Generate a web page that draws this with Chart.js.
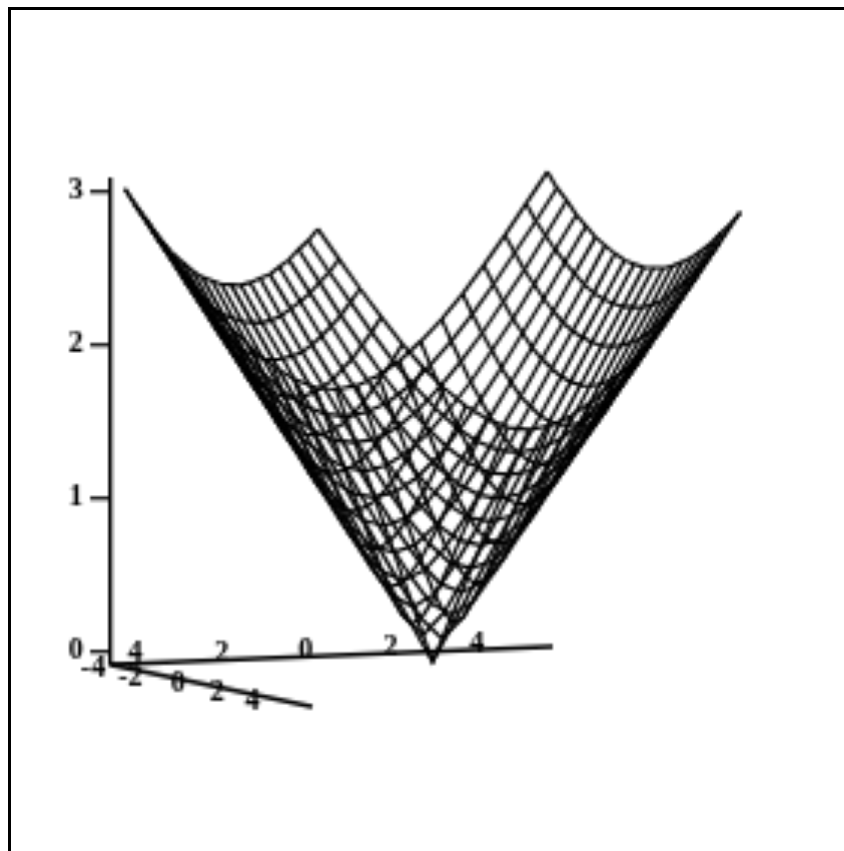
<!DOCTYPE html>
<html>
<head>
<meta charset="utf-8">
<title>Surface</title>
<style>
  html, body { margin: 0; padding: 0; background: #fff; }
  #wrap { position: absolute; left: 0; top: 0; width: 844px; height: 851px; }
  #frame { position: absolute; left: 8px; top: 7px; right: 0; bottom: 0;
           border-left: 3px solid #000; border-top: 3px solid #000; }
</style>
<script src="https://cdn.jsdelivr.net/npm/chart.js@4"></script>
</head>
<body>
<div id="wrap">
  <canvas id="chart" width="844" height="851"></canvas>
  <div id="frame"></div>
</div>
<script>
// mesh lines along both floor directions
const gridU = [-4, -3.6, -3.2, -2.8, -2.4, -2, -1.6, -1.2, -0.8, -0.4, 0,
               0.4, 0.8, 1.2, 1.6, 2, 2.4, 2.8, 3.2, 3.6, 4];
const gridV = [-4, -3.6, -3.2, -2.8, -2.4, -2, -1.6, -1.2, -0.8, -0.4, 0,
               0.4, 0.8, 1.2, 1.6, 2, 2.4, 2.8, 3.2, 3.6, 4];

// surface height, one quadrant: row = distance from centre along u, column = along v
const heights = [
  [0.00, 0.16, 0.33, 0.49, 0.66, 0.82, 0.99, 1.15, 1.32, 1.48, 1.64],
  [0.25, 0.30, 0.41, 0.55, 0.70, 0.86, 1.02, 1.18, 1.34, 1.50, 1.66],
  [0.50, 0.53, 0.60, 0.70, 0.83, 0.96, 1.11, 1.26, 1.41, 1.56, 1.72],
  [0.75, 0.77, 0.82, 0.90, 1.00, 1.12, 1.24, 1.38, 1.52, 1.66, 1.81],
  [1.00, 1.02, 1.06, 1.12, 1.20, 1.30, 1.41, 1.53, 1.66, 1.79, 1.93],
  [1.26, 1.27, 1.30, 1.35, 1.42, 1.50, 1.60, 1.70, 1.82, 1.94, 2.07],
  [1.51, 1.52, 1.54, 1.59, 1.64, 1.72, 1.80, 1.90, 2.00, 2.11, 2.23],
  [1.76, 1.77, 1.79, 1.83, 1.88, 1.94, 2.02, 2.10, 2.20, 2.30, 2.41],
  [2.01, 2.02, 2.04, 2.07, 2.11, 2.17, 2.24, 2.32, 2.40, 2.50, 2.60],
  [2.26, 2.27, 2.28, 2.31, 2.35, 2.41, 2.47, 2.54, 2.62, 2.70, 2.80],
  [2.51, 2.52, 2.53, 2.56, 2.60, 2.64, 2.70, 2.76, 2.84, 2.91, 3.00]
];

const heightTicks = [0, 1, 2, 3];

// floor axis labels, as they show in the picture
const floorLabelsU = ['4', '2', '0', '2', '4'];
const floorLabelsV = ['-4', '-2', '0', '2', '4'];

// view of the box (plot units per unit of u / v)
const VIEW = { ux: 52.75, uy: 0.0137, vx: 24.1, vy: -0.0326, drop: -0.065 };

function project(u, v, z) {
    return {
        x: VIEW.ux * u + VIEW.vx * v,
        y: z + VIEW.uy * u + VIEW.vy * v + VIEW.drop
    };
}

function heightAt(i, j) {
    return heights[Math.abs(i - 10)][Math.abs(j - 10)];
}

function lineDataset(points, width) {
    return {
        data: points,
        showLine: true,
        borderColor: '#000',
        borderWidth: width,
        pointRadius: 0,
        tension: 0,
        clip: false
    };
}

const meshDatasets = [];
gridU.forEach(function(u, i) {
    meshDatasets.push(lineDataset(gridV.map((v, j) => project(u, v, heightAt(i, j))), 3.5));
});
gridV.forEach(function(v, j) {
    meshDatasets.push(lineDataset(gridU.map((u, i) => project(u, v, heightAt(i, j))), 3.5));
});

// the two floor axes
const axisOrigin = project(-5.35, -1.65, 0);
const axisU = lineDataset([axisOrigin, project(3.03, -1.65, 0)], 4.5);
const axisV = lineDataset([axisOrigin, project(-5.35, 6.73, 0)], 4.5);

// where the floor labels sit, in plot units
const floorLabelPosU = [[-297, -0.02], [-211, -0.01], [-127, 0.005], [-42, 0.03], [44, 0.05]];
const floorLabelPosV = [[-339, -0.12], [-302, -0.18], [-254, -0.22], [-215, -0.26], [-180, -0.33]];

const floorLabels = {
    id: 'floorLabels',
    afterDatasetsDraw(chart) {
        const ctx = chart.ctx;
        const sx = chart.scales.x, sy = chart.scales.y;
        ctx.save();
        ctx.font = 'bold 30px "Liberation Serif"';
        ctx.fillStyle = '#000';
        ctx.textAlign = 'center';
        ctx.textBaseline = 'middle';
        floorLabelsU.forEach((t, i) => {
            ctx.fillText(t, sx.getPixelForValue(floorLabelPosU[i][0]), sy.getPixelForValue(floorLabelPosU[i][1]));
        });
        floorLabelsV.forEach((t, i) => {
            ctx.fillText(t, sx.getPixelForValue(floorLabelPosV[i][0]), sy.getPixelForValue(floorLabelPosV[i][1]));
        });
        ctx.restore();
    }
};

new Chart(document.getElementById('chart'), {
    type: 'scatter',
    data: { datasets: meshDatasets.concat([axisU, axisV]) },
    plugins: [floorLabels],
    options: {
        responsive: false,
        animation: false,
        devicePixelRatio: 1 / 3,
        layout: { padding: { top: 178, bottom: 188, right: 64, left: 0 } },
        plugins: { legend: { display: false }, tooltip: { enabled: false } },
        scales: {
            x: { type: 'linear', display: false, min: -322, max: 348 },
            y: {
                type: 'linear',
                min: -0.085,
                max: 3.078,
                afterFit(scale) { scale.width = 110; },
                afterBuildTicks(scale) { scale.ticks = heightTicks.map(v => ({ value: v })); },
                border: { color: '#000', width: 4 },
                grid: { drawOnChartArea: false, color: '#222', tickLength: 20, lineWidth: 4 },
                ticks: {
                    color: '#000',
                    padding: 7,
                    font: { family: '"Liberation Serif"', size: 30, weight: 'bold' }
                }
            }
        }
    }
});
</script>
</body>
</html>
